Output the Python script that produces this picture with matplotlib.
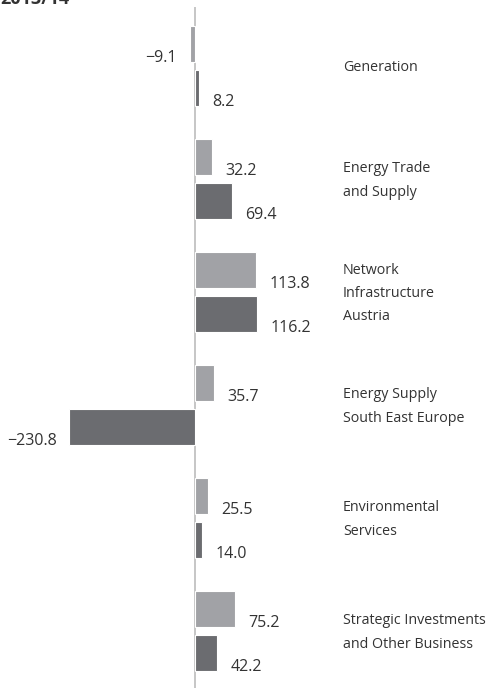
import numpy as np
import matplotlib.pyplot as plt

plt.rcParams['font.family'] = ['Open Sans', 'DejaVu Sans']

categories = ["Generation", "Energy Trade\nand Supply", "Network\nInfrastructure\nAustria",
              "Energy Supply\nSouth East Europe", "Environmental\nServices",
              "Strategic Investments\nand Other Business"]
prev_year = [-9.1, 32.2, 113.8, 35.7, 25.5, 75.2]
this_year = [8.2, 69.4, 116.2, -230.8, 14.0, 42.2]
title = "2013/14"

light = "#a1a2a6"
dark = "#6b6c70"
txt = "#333333"

W, H = 491, 688
fig = plt.figure(figsize=(W / 100, H / 100), dpi=100)
ax = fig.add_axes([0, 0, 1, 1])

px_x = 0.542          # pixels per unit
x0 = 194.5            # pixel of zero line
px_y = 113.0          # pixels per group
y0 = 66.0             # pixel of first group centre
ax.set_xlim(-x0 / px_x, (W - x0) / px_x)
ax.set_ylim((H - y0) / px_y, -y0 / px_y)
ax.axis("off")

# zero line
ax.plot([0, 0], [-(y0 - 8) / px_y, (H - y0) / px_y], color="#c6c6c6", lw=1.4, zorder=1)

pos = np.arange(len(categories))
h = 36 / px_y
off = 22 / px_y
ax.barh(pos - off, prev_year, height=h, color=light, edgecolor="white", lw=0.8, zorder=2)
ax.barh(pos + off, this_year, height=h, color=dark, edgecolor="white", lw=0.8, zorder=2)

gap = 13 / px_x
for yy, vals in ((pos - off, prev_year), (pos + off, this_year)):
    for y, v in zip(yy, vals):
        s = f"{v:.1f}".replace("-", "\u2212")
        ty = y + h / 2 - 4 / px_y
        if v >= 0:
            ax.text(v + gap, ty, s, ha="left", va="center", fontsize=11.5, color=txt)
        else:
            ax.text(v - gap, ty, s, ha="right", va="center", fontsize=11.5, color=txt)

for p, c in zip(pos, categories):
    ax.text((343 - x0) / px_x, p + 1.5 / px_y, c, ha="left", va="center", fontsize=10.3,
            color=txt, linespacing=1.75)

fig.text(0.0, 1 - 4 / H, title, ha="left", va="baseline", fontsize=13,
         fontweight="bold", color=txt)

fig.savefig("out.png", dpi=100)
